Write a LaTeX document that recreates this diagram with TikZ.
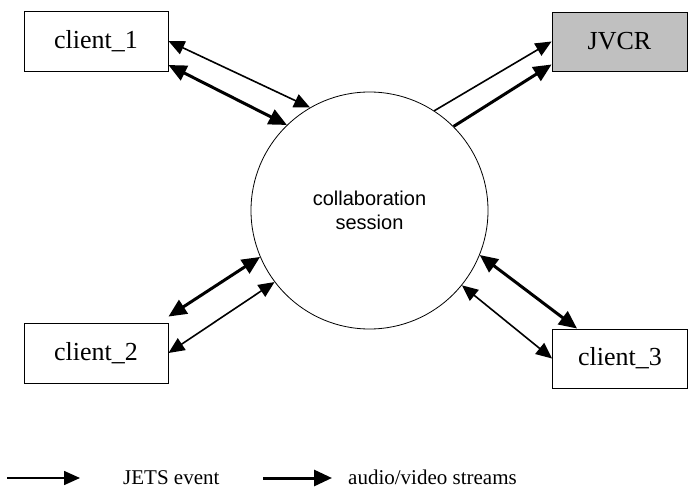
\documentclass[tikz,border=0pt]{standalone}
\usepackage{fontspec}
\setmainfont{Liberation Serif}
\newfontfamily\arialfont{Liberation Sans}
\usetikzlibrary{arrows.meta}
\definecolor{boxgray}{RGB}{192,192,192}
\tikzset{
  clientbox/.style={draw, line width=0.9pt, inner sep=0pt, font=\fontsize{26}{30}\selectfont},
  thinarrow/.style={line width=1.6pt, -{Triangle[length=16pt,width=14pt]}},
  thickarrow/.style={line width=3pt, -{Triangle[length=18pt,width=16pt]}},
  thinboth/.style={line width=1.6pt, {Triangle[length=16pt,width=14pt]}-{Triangle[length=16pt,width=14pt]}},
  thickboth/.style={line width=3pt, {Triangle[length=18pt,width=16pt]}-{Triangle[length=18pt,width=16pt]}},
  legendtext/.style={anchor=base west, inner sep=0pt, font=\fontsize{21}{25}\selectfont},
}
\begin{document}
\begin{tikzpicture}[x=1pt,y=-1pt]
\useasboundingbox (0,0) rectangle (688,489);
% session circle
\node[draw, circle, line width=0.8pt, minimum size=237pt, inner sep=0pt,
      font=\arialfont\fontsize{20}{24}\selectfont, align=center] (cs) at (369.5,210.5)
      {collaboration\\session};
% boxes
\node[clientbox, minimum width=144pt, minimum height=60pt] (c1) at (96,41) {client\_1};
\node[clientbox, minimum width=144pt, minimum height=60pt] (c2) at (96,353) {client\_2};
\node[clientbox, fill=boxgray, minimum width=135pt, minimum height=59pt] (jv) at (619.5,41.5) {JVCR};
\node[clientbox, minimum width=135pt, minimum height=59pt] (c3) at (620,358.5) {client\_3};
% client_1
\draw[thinboth] (c1.east) -- (cs.120);
\draw[thickboth] ([yshift=-24pt]c1.east) -- (cs.134);
% JVCR
\draw[thinarrow] (cs.57) -- (jv.west);
\draw[thickarrow] (cs.45) -- ([yshift=-23pt]jv.west);
% client_2
\draw[thickboth] (cs.203) -- ([yshift=6pt]c2.north east);
\draw[thinboth] (cs.217) -- (c2.east);
% client_3
\draw[thickboth] (cs.-22) -- ([xshift=25pt]c3.north west);
\draw[thinboth] (cs.-39) -- (c3.west);
% legend
\coordinate (l1a) at (7,478);
\coordinate (l1b) at (80,478);
\coordinate (l2a) at (263,478);
\coordinate (l2b) at (332,478);
\draw[thinarrow] (l1a) -- (l1b);
\draw[thickarrow] (l2a) -- (l2b);
\node[legendtext] (t1) at (123,484) {JETS event};
\node[legendtext] (t2) at (348,484) {audio/video streams};
\end{tikzpicture}
\end{document}
